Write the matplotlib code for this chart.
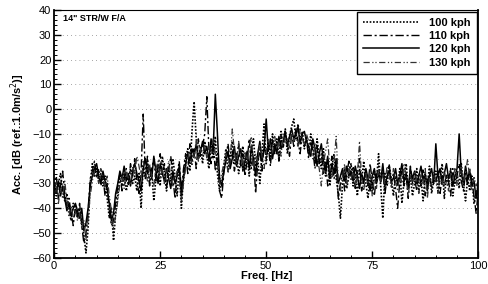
import numpy as np
import matplotlib
matplotlib.use("Agg")
from matplotlib import pyplot as plt
from matplotlib.ticker import MultipleLocator

plt.rcParams['font.family'] = ['Liberation Sans', 'DejaVu Sans']

# frequency grid, 0.5 Hz steps
freq = np.linspace(0, 100, 201)

# 100 kph
kph100 = [
    -28, -35, -30, -26, -33, -37, -34, -41, -45, -38, -40, -44, -40, -45, -51, -58, -48, -30, -22, -27,
    -24, -29, -26, -31, -27, -36, -44, -40, -53, -42, -35, -28, -31, -26, -33, -29, -24, -30, -27, -33,
    -26, -40, -23, -28, -21, -30, -25, -37, -28, -22, -31, -19, -26, -33, -23, -29, -20, -27, -35, -24,
    -40, -27, -20, -16, -25, -9, 3, -12, -20, -15, -22, -13, -19, -24, -14, -20, -11, -26, -33, -30,
    -23, -16, -25, -19, -13, -22, -18, -26, -21, -15, -24, -19, -27, -17, -12, -23, -20, -30, -18, -6,
    -22, -13, -19, -10, -17, -12, -20, -9, -15, -8, -18, -11, -7, -4, -12, -6, -13, -9, -16, -11,
    -18, -10, -15, -21, -12, -19, -24, -16, -27, -20, -31, -23, -18, -28, -34, -44, -30, -24, -32, -27,
    -22, -31, -26, -35, -24, -29, -21, -30, -36, -27, -33, -25, -29, -18, -31, -44, -26, -31, -23, -28,
    -35, -27, -31, -24, -38, -29, -22, -32, -27, -35, -30, -24, -33, -28, -37, -26, -31, -23, -34, -29,
    -25, -33, -28, -22, -36, -27, -31, -24, -35, -29, -26, -32, -22, -30, -37, -28, -33, -27, -38, -34,
    -31,
]

# 110 kph
kph110 = [
    -33, -27, -36, -31, -25, -34, -39, -36, -42, -47, -39, -43, -38, -47, -54, -50, -42, -28, -25, -21,
    -28, -24, -31, -27, -35, -30, -41, -47, -45, -38, -31, -26, -33, -28, -24, -31, -22, -27, -20, -29,
    -34, -25, -2, -27, -19, -31, -24, -20, -29, -23, -18, -27, -22, -32, -25, -19, -28, -36, -26, -21,
    -33, -24, -18, -26, -14, -21, -16, -24, -12, -19, -15, -10, 5, -17, -22, -13, -25, -18, -33, -36,
    -26, -19, -14, -22, -17, -25, -20, -14, -23, -18, -27, -21, -12, -24, -19, -34, -22, -16, -25, -14,
    -20, -15, -23, -12, -18, -14, -21, -11, -16, -9, -14, -19, -10, -15, -8, -13, -18, -10, -15, -12,
    -20, -13, -17, -24, -15, -22, -18, -26, -21, -31, -25, -19, -28, -23, -36, -30, -25, -33, -26, -21,
    -27, -23, -32, -26, -20, -33, -28, -25, -31, -22, -29, -35, -27, -23, -30, -25, -34, -28, -22, -30,
    -26, -32, -40, -29, -25, -31, -27, -36, -23, -30, -28, -33, -26, -31, -24, -35, -29, -26, -32, -27,
    -30, -25, -34, -27, -31, -26, -29, -35, -24, -30, -27, -22, -29, -33, -26, -31, -24, -29, -35, -42,
    -33,
]

# 120 kph
kph120 = [
    -31, -34, -29, -35, -31, -36, -41, -38, -43, -40, -38, -41, -44, -40, -49, -46, -40, -31, -27, -24,
    -22, -27, -30, -25, -29, -32, -38, -45, -42, -34, -30, -25, -28, -23, -29, -26, -31, -25, -22, -26,
    -29, -33, -24, -20, -26, -23, -28, -19, -25, -30, -22, -26, -29, -24, -28, -32, -25, -30, -27, -23,
    -35, -28, -22, -18, -21, -16, -19, -14, -20, -17, -13, -18, -15, -21, -12, -16, 6, -10, -28, -31,
    -25, -21, -17, -24, -20, -15, -23, -19, -16, -25, -21, -17, -24, -15, -20, -27, -18, -13, -21, -16,
    -4, -17, -12, -20, -14, -18, -11, -16, -13, -9, -15, -11, -8, -12, -10, -7, -14, -10, -9, -13,
    -15, -19, -12, -16, -23, -18, -14, -21, -25, -19, -28, -22, -26, -20, -30, -27, -24, -29, -23, -27,
    -25, -29, -23, -27, -32, -26, -30, -24, -28, -33, -27, -24, -30, -26, -29, -22, -31, -27, -25, -29,
    -28, -24, -30, -27, -22, -29, -26, -32, -24, -28, -25, -30, -27, -23, -29, -26, -33, -27, -24, -30,
    -14, -27, -24, -30, -26, -22, -28, -25, -31, -27, -24, -10, -26, -30, -23, -28, -25, -31, -29, -36,
    -30,
]

# 130 kph
kph130 = [
    -35, -30, -38, -32, -36, -29, -37, -43, -39, -44, -41, -45, -42, -48, -45, -53, -44, -35, -29, -25,
    -26, -30, -24, -28, -32, -27, -35, -41, -48, -43, -37, -30, -27, -32, -25, -28, -30, -23, -26, -19,
    -23, -28, -21, -25, -29, -22, -27, -31, -24, -21, -28, -24, -30, -26, -21, -27, -31, -29, -25, -28,
    -37, -30, -24, -20, -17, -23, -18, -13, -21, -16, -19, -14, -20, -15, -17, -12, -18, -22, -30, -26,
    -22, -18, -26, -21, -8, -17, -22, -13, -19, -24, -17, -22, -15, -11, -25, -18, -21, -14, -19, -24,
    -17, -12, -15, -18, -11, -16, -13, -19, -10, -14, -12, -16, -9, -13, -11, -15, -8, -12, -14, -10,
    -13, -17, -20, -14, -19, -24, -31, -22, -17, -12, -24, -28, -21, -11, -29, -33, -27, -22, -30, -24,
    -29, -24, -31, -27, -13, -28, -33, -26, -30, -24, -35, -28, -32, -24, -29, -26, -30, -23, -27, -32,
    -24, -29, -33, -26, -30, -22, -28, -35, -27, -31, -25, -29, -34, -26, -30, -24, -36, -28, -31, -25,
    -29, -34, -27, -31, -25, -29, -33, -26, -28, -24, -31, -27, -23, -30, -26, -20, -29, -33, -27, -31,
    -29,
]

labels = ["100 kph", "110 kph", "120 kph", "130 kph"]

fig = plt.figure(figsize=(4.88, 2.84), dpi=100)
ax = fig.add_axes([0.111, 0.092, 0.869, 0.873])

ax.plot(freq, kph100, color="black", lw=1.2, ls=(0, (1, 1)), label=labels[0])
ax.plot(freq, kph110, color="black", lw=1.0, ls=(0, (6, 2, 1.5, 2)), label=labels[1])
ax.plot(freq, kph120, color="black", lw=1.1, ls="-", label=labels[2])
ax.plot(freq, kph130, color="#333333", lw=0.9, ls=(0, (5, 2, 1, 1.5, 1, 2)), label=labels[3])

ax.set_xlim(0, 100)
ax.set_ylim(-60, 40)
ax.xaxis.set_major_locator(MultipleLocator(25))
ax.xaxis.set_minor_locator(MultipleLocator(5))
ax.yaxis.set_major_locator(MultipleLocator(10))
ax.yaxis.set_minor_locator(MultipleLocator(2))
ax.tick_params(which="both", direction="in", labelsize=8, pad=2)
ax.tick_params(which="major", length=5, width=1)
ax.tick_params(which="minor", length=2.5, width=0.7)
ax.grid(axis="y", which="major", color="#888888", ls=(0, (1, 4)), lw=0.6)
for s in ax.spines.values():
    s.set_linewidth(1.3)
ax.spines["top"].set_linewidth(0.8)

ax.set_xlabel("Freq. [Hz]", fontsize=8, fontweight="bold", labelpad=0)
ax.set_ylabel("Acc. [dB (ref.:1.0m/s$^2$)]", fontsize=8, fontweight="bold", labelpad=4)
ax.text(0.02, 0.985, '14" STR/W F/A', transform=ax.transAxes, fontsize=6.5,
        fontweight="bold", va="top", ha="left")

leg = ax.legend(loc="upper right", frameon=True, fancybox=False, framealpha=1,
                edgecolor="black", borderaxespad=0.15, handlelength=5.0,
                handletextpad=0.9, labelspacing=0.3, borderpad=0.55,
                prop={"weight": "bold", "size": 8})
leg.get_frame().set_linewidth(1.0)

fig.savefig("out.png", dpi=100)
